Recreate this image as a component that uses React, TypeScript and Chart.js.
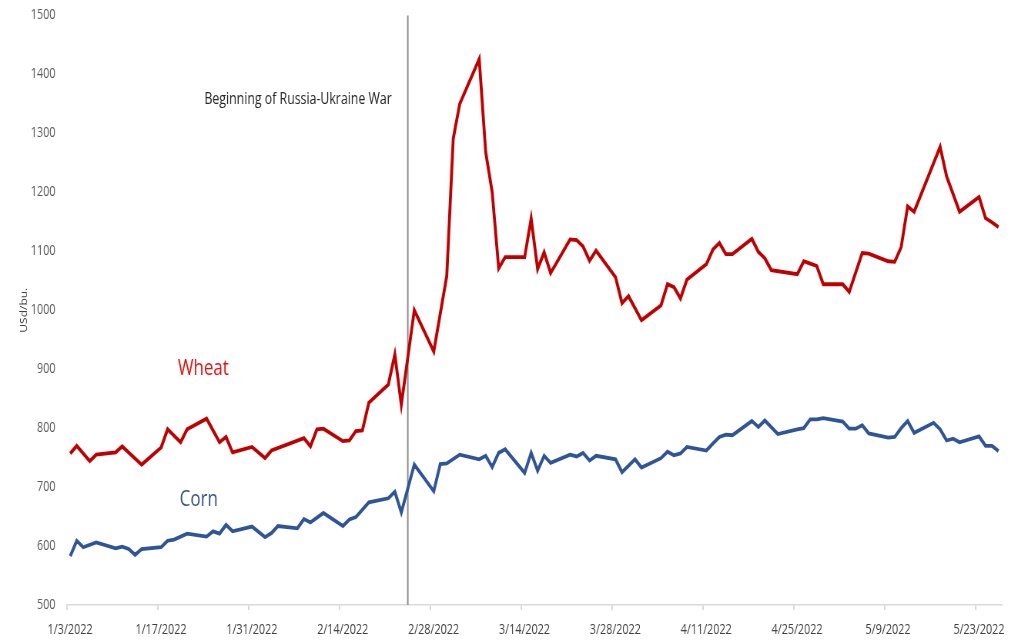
import React, { useEffect, useRef } from "react";
import { Chart, registerables } from "chart.js";

Chart.register(...registerables);

// Wheat futures, USd per bushel
const wheatDates = [
  "2022-01-03", "2022-01-04", "2022-01-06", "2022-01-07", "2022-01-10", "2022-01-11", "2022-01-14",
  "2022-01-17", "2022-01-18", "2022-01-20", "2022-01-21", "2022-01-24", "2022-01-26", "2022-01-27",
  "2022-01-28", "2022-01-31", "2022-02-02", "2022-02-03", "2022-02-08", "2022-02-09", "2022-02-10",
  "2022-02-11", "2022-02-14", "2022-02-15", "2022-02-16", "2022-02-17", "2022-02-18", "2022-02-21",
  "2022-02-22", "2022-02-23", "2022-02-25", "2022-02-28", "2022-03-02", "2022-03-03", "2022-03-04",
  "2022-03-07", "2022-03-08", "2022-03-09", "2022-03-10", "2022-03-11", "2022-03-14", "2022-03-15",
  "2022-03-16", "2022-03-17", "2022-03-18", "2022-03-21", "2022-03-22", "2022-03-23", "2022-03-24",
  "2022-03-25", "2022-03-28", "2022-03-29", "2022-03-30", "2022-04-01", "2022-04-04", "2022-04-05",
  "2022-04-06", "2022-04-07", "2022-04-08", "2022-04-11", "2022-04-12", "2022-04-13", "2022-04-14",
  "2022-04-15", "2022-04-18", "2022-04-19", "2022-04-20", "2022-04-21", "2022-04-25", "2022-04-26",
  "2022-04-27", "2022-04-28", "2022-04-29", "2022-05-02", "2022-05-03", "2022-05-05", "2022-05-06",
  "2022-05-09", "2022-05-10", "2022-05-11", "2022-05-12", "2022-05-13", "2022-05-17", "2022-05-18",
  "2022-05-20", "2022-05-23", "2022-05-24", "2022-05-25", "2022-05-26",
];
const wheatPrices = [
  757, 770, 744, 755, 759, 769, 738,
  767, 798, 776, 798, 816, 776, 785,
  759, 768, 749, 762, 783, 769, 798,
  799, 778, 779, 795, 796, 843, 874,
  925, 840, 1000, 930, 1058, 1291, 1350,
  1426, 1268, 1200, 1071, 1090, 1090, 1155,
  1070, 1098, 1063, 1120, 1119, 1108, 1084,
  1101, 1056, 1012, 1024, 983, 1008, 1044,
  1039, 1020, 1052, 1078, 1103, 1114, 1095,
  1095, 1121, 1099, 1088, 1068, 1061, 1083,
  1079, 1075, 1044, 1044, 1031, 1097, 1096,
  1083, 1082, 1107, 1176, 1167, 1277, 1227,
  1167, 1192, 1156, 1149, 1141,
];

// Corn futures, USd per bushel
const cornDates = [
  "2022-01-03", "2022-01-04", "2022-01-05", "2022-01-07", "2022-01-10", "2022-01-11", "2022-01-12",
  "2022-01-13", "2022-01-14", "2022-01-17", "2022-01-18", "2022-01-19", "2022-01-21", "2022-01-24",
  "2022-01-25", "2022-01-26", "2022-01-27", "2022-01-28", "2022-01-31", "2022-02-02", "2022-02-03",
  "2022-02-04", "2022-02-07", "2022-02-08", "2022-02-09", "2022-02-11", "2022-02-14", "2022-02-15",
  "2022-02-16", "2022-02-18", "2022-02-21", "2022-02-22", "2022-02-23", "2022-02-25", "2022-02-28",
  "2022-03-01", "2022-03-02", "2022-03-04", "2022-03-07", "2022-03-08", "2022-03-09", "2022-03-10",
  "2022-03-11", "2022-03-14", "2022-03-15", "2022-03-16", "2022-03-17", "2022-03-18", "2022-03-21",
  "2022-03-22", "2022-03-23", "2022-03-24", "2022-03-25", "2022-03-28", "2022-03-29", "2022-03-31",
  "2022-04-01", "2022-04-04", "2022-04-05", "2022-04-06", "2022-04-07", "2022-04-08", "2022-04-11",
  "2022-04-12", "2022-04-13", "2022-04-14", "2022-04-15", "2022-04-18", "2022-04-19", "2022-04-20",
  "2022-04-22", "2022-04-25", "2022-04-26", "2022-04-27", "2022-04-28", "2022-04-29", "2022-05-02",
  "2022-05-03", "2022-05-04", "2022-05-05", "2022-05-06", "2022-05-09", "2022-05-10", "2022-05-11",
  "2022-05-12", "2022-05-13", "2022-05-16", "2022-05-17", "2022-05-18", "2022-05-19", "2022-05-20",
  "2022-05-23", "2022-05-24", "2022-05-25", "2022-05-26",
];
const cornPrices = [
  583, 609, 598, 606, 596, 599, 595,
  585, 595, 598, 609, 611, 621, 616,
  625, 621, 636, 625, 633, 615, 622,
  634, 630, 646, 640, 656, 634, 645,
  649, 674, 681, 692, 657, 738, 693,
  739, 740, 755, 747, 753, 734, 758,
  764, 724, 758, 728, 753, 741, 755,
  752, 758, 745, 753, 747, 725, 747,
  733, 749, 760, 754, 757, 768, 762,
  774, 785, 789, 788, 812, 802, 813,
  790, 798, 800, 815, 815, 817, 811,
  799, 799, 805, 791, 784, 785, 800,
  812, 792, 809, 798, 779, 782, 776,
  786, 770, 770, 761,
];

const xTickDates = [
  "2022-01-03", "2022-01-17", "2022-01-31", "2022-02-14", "2022-02-28", "2022-03-14",
  "2022-03-28", "2022-04-11", "2022-04-25", "2022-05-09", "2022-05-23",
];
const yMin = 500;
const yMax = 1500;
const yStep = 100;

const warStart = "2022-02-24";
const warCaption = "Beginning of Russia-Ukraine War";

const FONT = "'Open Sans', sans-serif";

// The chart is drawn on a wider canvas and narrowed horizontally,
// which gives the tall, condensed lettering of the original layout.
const SQUEEZE = 0.77;
const VIEW_W = 1022;
const VIEW_H = 640;
const CANVAS_W = Math.round(VIEW_W / SQUEEZE);

const DAY0 = Date.UTC(2022, 0, 3);
const dayOf = (iso: string) => {
  const [y, m, d] = iso.split("-").map(Number);
  return Math.round((Date.UTC(y, m - 1, d) - DAY0) / 86400000);
};
const formatDay = (day: number) => {
  const dt = new Date(DAY0 + day * 86400000);
  return `${dt.getUTCMonth() + 1}/${dt.getUTCDate()}/${dt.getUTCFullYear()}`;
};

const lastDay = Math.max(dayOf(wheatDates[wheatDates.length - 1]), dayOf(cornDates[cornDates.length - 1]));

// vertical marker plus in-plot captions
const annotations = {
  id: "annotations",
  beforeDatasetsDraw(chart: any) {
    const { ctx, chartArea, scales } = chart;
    const x = scales.x.getPixelForValue(dayOf(warStart));
    ctx.save();
    ctx.strokeStyle = "#8c8c8c";
    ctx.lineWidth = 2;
    ctx.beginPath();
    ctx.moveTo(x, chartArea.top);
    ctx.lineTo(x, chartArea.bottom);
    ctx.stroke();
    ctx.restore();
  },
  afterDatasetsDraw(chart: any) {
    const { ctx, scales } = chart;
    const px = (day: number) => scales.x.getPixelForValue(day);
    const py = (v: number) => scales.y.getPixelForValue(v);
    ctx.save();
    ctx.textAlign = "center";
    ctx.textBaseline = "middle";
    ctx.fillStyle = "#262626";
    ctx.font = `16px ${FONT}`;
    ctx.fillText(warCaption, px(35.1), py(1357));
    ctx.font = `22px ${FONT}`;
    ctx.fillStyle = "#e31111";
    ctx.fillText("Wheat", px(20.5), py(901));
    ctx.fillStyle = "#34507f";
    ctx.fillText("Corn", px(19.8), py(679));
    ctx.restore();
  },
};

export default function App() {
  const ref = useRef<HTMLCanvasElement>(null);

  useEffect(() => {
    if (!ref.current) return;
    const chart = new Chart(ref.current, {
      type: "line",
      data: {
        datasets: [
          {
            label: "Wheat",
            data: wheatDates.map((d, i) => ({ x: dayOf(d), y: wheatPrices[i] })),
            borderColor: "#c00000",
            borderWidth: 3.8,
            pointRadius: 0,
            tension: 0,
          },
          {
            label: "Corn",
            data: cornDates.map((d, i) => ({ x: dayOf(d), y: cornPrices[i] })),
            borderColor: "#2f5597",
            borderWidth: 3.8,
            pointRadius: 0,
            tension: 0,
          },
        ],
      },
      options: {
        responsive: false,
        animation: false,
        devicePixelRatio: 1,
        layout: { padding: { left: 0, right: 26, top: 14, bottom: 0 } },
        plugins: { legend: { display: false }, tooltip: { enabled: false } },
        scales: {
          x: {
            type: "linear",
            min: -0.5,
            max: lastDay + 0.5,
            afterBuildTicks: (scale: any) => {
              scale.ticks = xTickDates.map((d) => ({ value: dayOf(d) - 0.5 }));
            },
            afterFit: (scale: any) => {
              scale.height = 35;
            },
            grid: {
              drawOnChartArea: false,
              drawTicks: true,
              tickLength: 5,
              color: "#d9d9d9",
              lineWidth: 2,
            },
            border: { color: "#d9d9d9", width: 1.5 },
            ticks: {
              autoSkip: false,
              maxRotation: 0,
              labelOffset: 4,
              padding: 12,
              color: "#404040",
              font: { family: FONT, size: 14 },
              callback: (value: any) => formatDay(Math.round(Number(value) + 0.5)),
            },
          },
          y: {
            min: yMin,
            max: yMax,
            afterFit: (scale: any) => {
              scale.width = 87;
            },
            grid: { display: false },
            border: { display: false },
            ticks: {
              stepSize: yStep,
              padding: 7,
              color: "#595959",
              font: { family: FONT, size: 14 },
              callback: (value: any) => String(value),
            },
            title: {
              display: true,
              text: "USd/bu.",
              color: "#404040",
              padding: { top: 24, bottom: 0 },
              font: { family: FONT, size: 12 },
            },
          },
        },
      },
      plugins: [annotations],
    });
    return () => chart.destroy();
  }, []);

  return (
    <div
      style={{
        position: "fixed",
        left: 0,
        top: 0,
        width: VIEW_W,
        height: VIEW_H,
        overflow: "hidden",
        background: "#fff",
      }}
    >
      <div style={{ width: CANVAS_W, height: VIEW_H, transform: `scaleX(${SQUEEZE})`, transformOrigin: "0 0" }}>
        <canvas ref={ref} width={CANVAS_W} height={VIEW_H} />
      </div>
    </div>
  );
}
